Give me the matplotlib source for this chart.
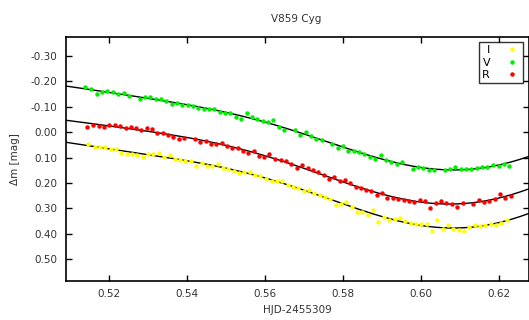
import numpy as np
import matplotlib
matplotlib.use("Agg")
import matplotlib.pyplot as plt

plt.rcParams["axes.unicode_minus"] = False
plt.rcParams["font.family"] = "DejaVu Sans"

title = "V859 Cyg"
xlabel = "HJD-2455309"
ylabel = "\u0394m [mag]"

# I band
hjd_i = [0.51462, 0.51626, 0.51762, 0.51897, 0.52036, 0.52172, 0.52308, 0.52446, 0.52582, 0.52718,
         0.52856, 0.52992, 0.53128, 0.53267, 0.53403, 0.53549, 0.53677, 0.53813, 0.53949, 0.54095,
         0.54231, 0.54369, 0.54505, 0.54641, 0.54779, 0.54915, 0.55051, 0.55190, 0.55326, 0.55462,
         0.55600, 0.55744, 0.55872, 0.56010, 0.56164, 0.56300, 0.56436, 0.56574, 0.56710, 0.56846,
         0.56985, 0.57128, 0.57256, 0.57395, 0.57531, 0.57667, 0.57805, 0.57941, 0.58077, 0.58215,
         0.58351, 0.58487, 0.58626, 0.58762, 0.58897, 0.59036, 0.59179, 0.59318, 0.59454, 0.59590,
         0.59728, 0.59864, 0.60000, 0.60138, 0.60274, 0.60410, 0.60549, 0.60685, 0.60821, 0.60967,
         0.61095, 0.61231, 0.61369, 0.61505, 0.61641, 0.61779, 0.61915, 0.62054, 0.62195]
dm_i = [0.047, 0.057, 0.059, 0.058, 0.066, 0.066, 0.082, 0.086, 0.085, 0.090,
        0.098, 0.085, 0.086, 0.083, 0.096, 0.091, 0.105, 0.111, 0.112, 0.115,
        0.132, 0.121, 0.132, 0.133, 0.125, 0.140, 0.145, 0.153, 0.161, 0.158,
        0.157, 0.167, 0.171, 0.185, 0.191, 0.192, 0.191, 0.207, 0.215, 0.221,
        0.234, 0.230, 0.239, 0.248, 0.256, 0.264, 0.287, 0.282, 0.274, 0.295,
        0.314, 0.314, 0.327, 0.309, 0.356, 0.335, 0.346, 0.343, 0.339, 0.351,
        0.359, 0.363, 0.364, 0.363, 0.389, 0.348, 0.383, 0.367, 0.381, 0.387,
        0.391, 0.376, 0.368, 0.369, 0.365, 0.361, 0.366, 0.358, 0.347]

# V band
hjd_v = [0.51385, 0.51538, 0.51685, 0.51813, 0.51949, 0.52095, 0.52231, 0.52369, 0.52505, 0.52779,
         0.52915, 0.53051, 0.53190, 0.53326, 0.53462, 0.53600, 0.53736, 0.53872, 0.54010, 0.54146,
         0.54282, 0.54421, 0.54556, 0.54692, 0.54831, 0.54967, 0.55103, 0.55241, 0.55377, 0.55523,
         0.55659, 0.55795, 0.55933, 0.56069, 0.56205, 0.56351, 0.56479, 0.56754, 0.56897, 0.57036,
         0.57172, 0.57308, 0.57446, 0.57718, 0.57856, 0.57992, 0.58128, 0.58267, 0.58403, 0.58538,
         0.58677, 0.58813, 0.58959, 0.59095, 0.59231, 0.59369, 0.59505, 0.59779, 0.59915, 0.60051,
         0.60190, 0.60326, 0.60600, 0.60736, 0.60872, 0.61010, 0.61146, 0.61282, 0.61421, 0.61556,
         0.61692, 0.61846, 0.61985, 0.62121, 0.62256]
dm_v = [-0.177, -0.170, -0.150, -0.158, -0.162, -0.158, -0.150, -0.156, -0.143, -0.131,
        -0.139, -0.140, -0.130, -0.131, -0.122, -0.112, -0.114, -0.108, -0.107, -0.103,
        -0.094, -0.091, -0.093, -0.091, -0.080, -0.076, -0.077, -0.061, -0.052, -0.074,
        -0.061, -0.052, -0.043, -0.041, -0.047, -0.022, -0.008, -0.010, 0.010, -0.002,
        0.015, 0.027, 0.030, 0.048, 0.062, 0.056, 0.073, 0.073, 0.077, 0.085,
        0.097, 0.106, 0.090, 0.108, 0.116, 0.124, 0.119, 0.145, 0.138, 0.141,
        0.150, 0.150, 0.150, 0.146, 0.138, 0.146, 0.145, 0.145, 0.141, 0.136,
        0.137, 0.130, 0.132, 0.125, 0.132]

# R band
hjd_r = [0.51428, 0.51582, 0.51728, 0.51864, 0.52000, 0.52138, 0.52274, 0.52421, 0.52556, 0.52692,
         0.52821, 0.52959, 0.53095, 0.53231, 0.53369, 0.53505, 0.53641, 0.53787, 0.53923, 0.54197,
         0.54333, 0.54472, 0.54608, 0.54744, 0.54882, 0.55018, 0.55154, 0.55292, 0.55428, 0.55564,
         0.55703, 0.55838, 0.55974, 0.56103, 0.56256, 0.56395, 0.56531, 0.56667, 0.56805, 0.56941,
         0.57087, 0.57223, 0.57359, 0.57497, 0.57633, 0.57769, 0.57908, 0.58044, 0.58179, 0.58318,
         0.58454, 0.58582, 0.58718, 0.58856, 0.58992, 0.59128, 0.59267, 0.59410, 0.59549, 0.59685,
         0.59821, 0.59959, 0.60095, 0.60231, 0.60369, 0.60505, 0.60641, 0.60787, 0.60923, 0.61062,
         0.61333, 0.61472, 0.61608, 0.61744, 0.61882, 0.62018, 0.62154, 0.62292]
dm_r = [-0.022, -0.028, -0.026, -0.022, -0.030, -0.030, -0.026, -0.017, -0.019, -0.015,
        -0.009, -0.018, -0.014, 0.004, 0.004, 0.011, 0.018, 0.027, 0.022, 0.027,
        0.037, 0.034, 0.047, 0.045, 0.044, 0.056, 0.061, 0.063, 0.075, 0.083,
        0.075, 0.093, 0.098, 0.087, 0.104, 0.111, 0.113, 0.126, 0.142, 0.129,
        0.141, 0.150, 0.157, 0.170, 0.185, 0.178, 0.192, 0.189, 0.200, 0.215,
        0.221, 0.228, 0.234, 0.247, 0.241, 0.258, 0.259, 0.264, 0.266, 0.272,
        0.275, 0.267, 0.271, 0.298, 0.280, 0.271, 0.280, 0.282, 0.296, 0.280,
        0.282, 0.268, 0.275, 0.270, 0.263, 0.242, 0.258, 0.251]

bands = [("I", hjd_i, dm_i, "#ffff00"),
         ("V", hjd_v, dm_v, "#00ee00"),
         ("R", hjd_r, dm_r, "#ff0000")]

xticks = [0.52, 0.54, 0.56, 0.58, 0.60, 0.62]
yticks = [-0.30, -0.20, -0.10, 0.00, 0.10, 0.20, 0.30, 0.40, 0.50]
xlim = (0.5089, 0.6276)
ylim = (0.587, -0.375)

# base period (days) of the two-harmonic Fourier model
period = 0.20


def design(t):
    w = 2 * np.pi * np.asarray(t) / period
    return np.column_stack([np.ones_like(w), np.cos(w), np.sin(w),
                            np.cos(2 * w), np.sin(2 * w)])


fig = plt.figure(figsize=(5.29, 3.2), dpi=100)
ax = fig.add_axes([0.1248, 0.122, 0.8752, 0.762])

xx = np.linspace(xlim[0], xlim[1], 400)
for name, t, m, col in bands:
    coef, *_ = np.linalg.lstsq(design(t), np.asarray(m), rcond=None)
    ax.plot(xx, design(xx) @ coef, color="black", lw=1.0, zorder=2)
for name, t, m, col in bands:
    ax.plot(t, m, "o", ls="none", ms=3.2, color=col, mec="none", label=name, zorder=3)

ax.set_xlim(*xlim)
ax.set_ylim(*ylim)
ax.set_xticks(xticks)
ax.set_yticks(yticks)
ax.set_xticklabels([f"{v:.2f}" for v in xticks])
ax.set_yticklabels([f"{v:.2f}" for v in yticks])
ax.tick_params(direction="in", length=4, width=1, top=True, right=True,
               labelsize=7.5, labelcolor="#333333", pad=6)
for s in ax.spines.values():
    s.set_linewidth(1.2)
ax.set_xlabel(xlabel, fontsize=7.5, color="#333333", labelpad=4)
ax.set_ylabel(ylabel, fontsize=7.5, color="#333333", labelpad=8)
fig.text(0.5 + 0.06, 1 - 19 / 320, title, ha="center", va="center", fontsize=7.5, color="#333333")

leg = ax.legend(loc="upper right", bbox_to_anchor=(0.988, 0.98), markerfirst=False,
                numpoints=1, fontsize=8, frameon=True, fancybox=False, borderpad=0.3,
                labelspacing=0.2, handlelength=1.5, handletextpad=1.2, borderaxespad=0)
leg.get_frame().set_edgecolor("black")
leg.get_frame().set_linewidth(1.0)

fig.savefig("out.png", dpi=100)
